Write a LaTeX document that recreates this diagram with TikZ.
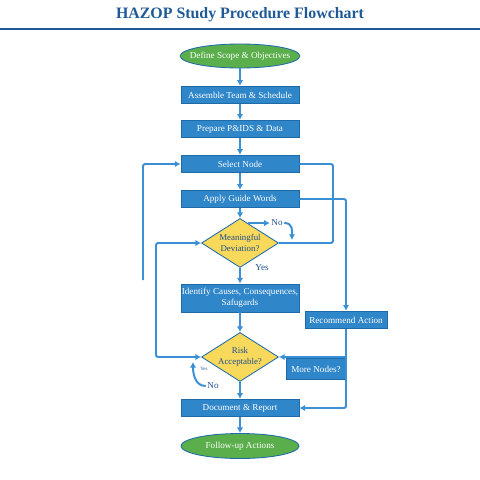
\documentclass[tikz,border=0pt]{standalone}
\usepackage{fontspec}
\setmainfont{Liberation Serif}
\usetikzlibrary{shapes.geometric,arrows.meta,calc}
\definecolor{hzblue}{HTML}{2F86C9}
\definecolor{hzedge}{HTML}{1F6AA8}
\definecolor{hzline}{HTML}{3A8FD5}
\definecolor{hzgreen}{HTML}{5BAE4C}
\definecolor{hzyellow}{HTML}{F8D95C}
\definecolor{hztitle}{HTML}{1F5A96}
\definecolor{hztext}{HTML}{1F4E8F}
\begin{document}
\begin{tikzpicture}[x=0.025cm,y=-0.025cm,
  procbox/.style={rectangle,draw=hzedge,line width=0.6pt,fill=hzblue,text=white,minimum width=2.95cm,minimum height=0.44cm,inner sep=0pt,align=center,font=\fontsize{6.5}{7.6}\selectfont},
  termbox/.style={ellipse,draw=hzedge,line width=0.6pt,fill=hzgreen,text=white,minimum width=2.95cm,minimum height=0.6cm,inner xsep=-0.195cm,inner ysep=0pt,font=\fontsize{6.5}{7.6}\selectfont},
  decbox/.style={diamond,aspect=1.57,draw=hzedge,line width=0.6pt,fill=hzyellow,text=hztext,minimum width=1.925cm,minimum height=1.225cm,inner sep=0pt,align=center,font=\fontsize{6.3}{7.6}\selectfont},
  flow/.style={color=hzline,line width=1.4pt,rounded corners=1.5pt},
  lbl/.style={text=hztext,inner sep=1pt,font=\fontsize{6.5}{7.6}\selectfont},
  >={Latex[length=4pt,width=4.5pt]}]
\useasboundingbox[fill=white] (0,0) rectangle (480,480);

\node[text=hztitle,font=\fontsize{11.3}{13}\selectfont\bfseries] (title) at (240,15) {HAZOP Study Procedure Flowchart};
\draw[hztitle,line width=2pt] (0,29) -- (480,29);

\node[termbox] (scope) at (240,56) {Define Scope \& Objectives};
\node[procbox] (team) at (240,95) {Assemble Team \& Schedule};
\node[procbox] (pids) at (240,129) {Prepare P\&IDS \& Data};
\node[procbox] (selnode) at (240,164) {Select Node};
\node[procbox] (guide) at (240,199) {Apply Guide Words};
\node[decbox] (dev) at (240,243) {Meaningful\\Deviation?};
\node[procbox,minimum height=0.7cm] (causes) at (240,298) {Identify Causes, Consequences,\\Safugards};
\node[decbox] (risk) at (240,357) {Risk\\Acceptable?};
\node[procbox] (report) at (240,408) {Document \& Report};
\node[termbox,minimum height=0.625cm] (followup) at (240,446) {Follow-up Actions};

\node[procbox,minimum width=2.05cm] (recommend) at (346,320) {Recommend Action};
\node[procbox,minimum width=1.475cm,minimum height=0.525cm] (morenodes) at (316,369) {More Nodes?};

\node[lbl] (devno) at (277,223) {No};
\node[lbl] (devyes) at (262,268) {Yes};
\node[lbl] (riskno) at (213,386) {No};
\node[lbl,font=\fontsize{3.5}{4}\selectfont] (riskyes) at (204,369) {Yes};

\coordinate (rx) at (333,0);
\coordinate (lx) at (156,0);
\coordinate (loopend) at (143,280);
\coordinate (devout) at ($(dev.north)!0.2!(dev.east)$);
\coordinate (devhit) at (292,240);
\coordinate (riskhit) at (193,362);

\draw[flow,->] (scope) -- (team);
\draw[flow,->] (team) -- (pids);
\draw[flow,->] (pids) -- (selnode);
\draw[flow,->] (selnode) -- (guide);
\draw[flow,->] (guide) -- (dev);
\draw[flow,->] (dev) -- (causes);
\draw[flow,->] (causes) -- (risk);
\draw[flow,->] (risk) -- (report);
\draw[flow,->] (report) -- (followup);

\draw[flow] (selnode.east) -| (rx |- dev.east) -- (dev.east);
\draw[flow,->] (guide.east) -| (recommend.north);
\draw[flow,->] (recommend.south) |- (report.east);
\draw[flow,->] (recommend.south |- risk.east) -- (risk.east);
\draw[flow,->] (loopend) |- (selnode.west);
\draw[flow,<->] (dev.west) -| (lx |- risk.west) -- (risk.west);

\draw[flow,->] (devout) -- (devout -| devno.west);
\draw[flow,->] (devno.east) .. controls +(9,0) and +(0,-9) .. (devhit);
\draw[flow,->] (riskno.west) .. controls +(-11,0) and +(0,11) .. (riskhit);
\end{tikzpicture}
\end{document}
